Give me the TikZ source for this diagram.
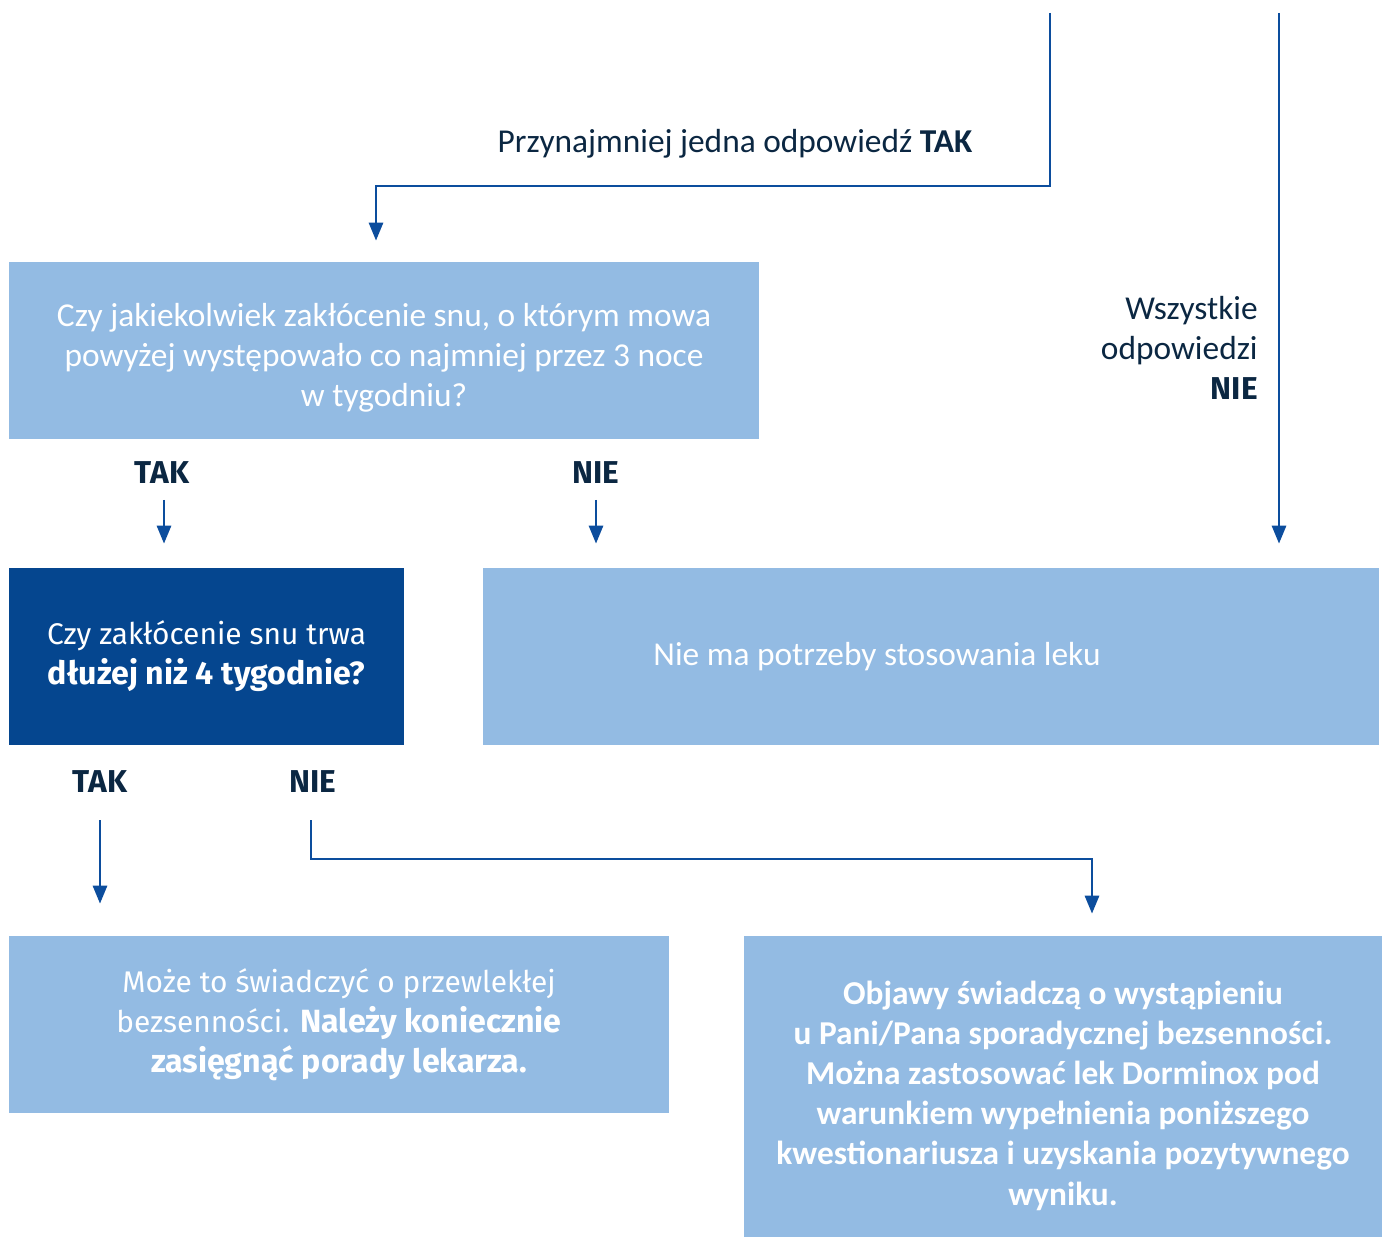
\documentclass[tikz,border=0pt]{standalone}
\usepackage{fontspec}
\setmainfont{Carlito}
\newfontfamily\fira{Fira Sans}
\usetikzlibrary{arrows.meta}
\definecolor{lightbox}{HTML}{93BBE3}
\definecolor{darkbox}{HTML}{05468F}
\definecolor{arrowblue}{HTML}{0C4D9D}
\definecolor{labelnavy}{HTML}{0B2742}
\newcommand{\firalight}{\fira\fontsize{17}{22.8}\selectfont}
\newcommand{\firabold}{\fira\bfseries\fontsize{18.3}{22.8}\selectfont}
\tikzset{
  box/.style={fill=lightbox, text=white, align=center, inner sep=0pt,
    minimum height=3.54cm, font=\fontsize{19}{22.8}\selectfont},
  darkq/.style={box, fill=darkbox},
  answer/.style={text=labelnavy, font=\fira\bfseries\fontsize{18}{22}\selectfont},
  note/.style={text=labelnavy, font=\fontsize{19}{22.8}\selectfont},
  arr/.style={draw=arrowblue, line width=1.6pt,
    -{Triangle[length=0.36cm,width=0.28cm]}}
}
\begin{document}
\begin{tikzpicture}[x=0.02cm, y=-0.02cm]
  \useasboundingbox (0,0) rectangle (1382,1237);
  % boxes
  \node[box, minimum width=15cm] (q1) at (384,350.5)
    {\rule{0pt}{0.75cm}Czy jakiekolwiek zakłócenie snu, o którym mowa\\
     powyżej występowało co najmniej przez 3 noce\\
     w tygodniu?};
  \node[darkq, minimum width=7.9cm] (q2) at (206.5,656.5)
    {\firalight Czy zakłócenie snu trwa\\
     \firabold dłużej niż 4 tygodnie?};
  \node[box, minimum width=17.92cm] (none) at (931,656.5)
    {\hspace*{-2.16cm}Nie ma potrzeby stosowania leku};
  \node[box, minimum width=13.2cm] (chronic) at (339,1024.5)
    {\firalight Może to świadczyć o przewlekłej\\
     \firalight bezsenności. \firabold Należy koniecznie\\
     \firabold zasięgnąć porady lekarza.};
  \node[box, minimum width=12.76cm, minimum height=6.02cm, font=\bfseries\fontsize{19}{22.8}\selectfont] (ok) at (1063,1086.5)
    {\rule{0pt}{0.84cm}Objawy świadczą o wystąpieniu\\
     u Pani/Pana sporadycznej bezsenności.\\
     Można zastosować lek Dorminox pod\\
     warunkiem wypełnienia poniższego\\
     kwestionariusza i uzyskania pozytywnego\\
     wyniku.};
  % labels
  \node[note] (yesall) at (735,144) {Przynajmniej jedna odpowiedź \textbf{TAK}};
  \node[note, anchor=east, align=right, inner sep=0pt] (noall) at (1258,348)
    {Wszystkie\\ odpowiedzi\\ {\fira\bfseries\fontsize{18}{22}\selectfont NIE}};
  \node[answer] (tak1) at (162,473) {TAK};
  \node[answer] (nie1) at (596,473) {NIE};
  \node[answer] (tak2) at (100,782) {TAK};
  \node[answer] (nie2) at (313,782) {NIE};
  \coordinate (inA) at (1050,13);
  \coordinate (inB) at (1279,13);
  % connectors
  \draw[arr, shorten >=0.42cm] (inA) -- ++(0,173) -| ([xshift=-0.16cm]q1.north);
  \draw[arr, shorten >=0.48cm] (inB) -- (inB |- none.north);
  \draw[arr, shorten <=0.54cm, shorten >=0.48cm] ([xshift=0.04cm]tak1.center) -- ([xshift=0.04cm]tak1.center |- q2.north);
  \draw[arr, shorten <=0.54cm, shorten >=0.48cm] (nie1.center) -- (nie1.center |- none.north);
  \draw[arr, shorten <=0.76cm, shorten >=0.64cm] (tak2.center) -- (tak2.center |- chronic.north);
  \draw[arr, shorten >=0.44cm] ([xshift=-0.04cm,yshift=-0.76cm]nie2.center) -- ++(0,39) -| ([xshift=0.58cm]ok.north);
\end{tikzpicture}
\end{document}
